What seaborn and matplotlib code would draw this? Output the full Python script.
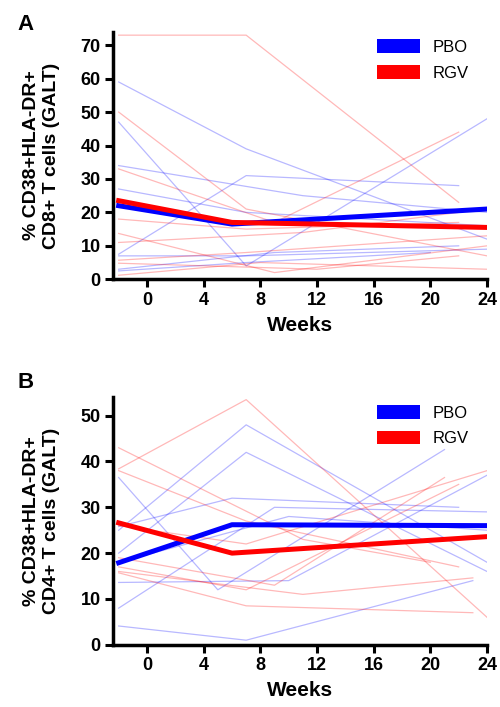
import seaborn as sns
import matplotlib.pyplot as plt
import pandas as pd
from matplotlib.patches import Patch

# Individual subjects, panel A (CD8+), each row: weeks / values
a_pbo_weeks = [[-2, 7, 24], [-2, 7, 24], [-2, 11, 24], [-2, 7, 22], [-2, 7, 24],
               [-2, 9, 22], [-2, 7, 24], [-2, 7, 20]]
a_pbo_vals = [[59, 39, 12], [47, 4, 48], [34, 25, 20], [7.5, 31, 28], [27, 20, 16],
              [3, 8, 10], [7, 7, 9], [2.5, 5, 8]]
a_rgv_weeks = [[-2, 7, 22], [-2, 7, 24], [-2, 9, 22], [-2, 7, 22], [-2, 9, 24],
               [-2, 11, 22], [-2, 7, 24], [-2, 12, 22], [-2, 8, 24]]
a_rgv_vals = [[73, 73, 23], [50, 21, 7], [33, 17, 44], [18, 15, 17], [13.7, 2, 10],
              [11, 14, 20], [5.7, 8, 13], [4.8, 3, 7], [1.2, 5, 3]]

# Individual subjects, panel B (CD4+)
b_pbo_weeks = [[-2, 7, 24], [-2, 7, 24], [-2, 5, 21], [-2, 6, 22], [-2, 10, 24],
               [-2, 9, 24], [-2, 7, 23], [-2, 10, 24]]
b_pbo_vals = [[25, 48, 18], [20, 42, 16], [36.5, 12, 42.6], [25.8, 32, 30], [13.6, 14, 37],
              [8, 30, 29], [4.1, 1, 14], [18, 28, 25]]
b_rgv_weeks = [[-2, 7, 24], [-2, 11, 20], [-2, 7, 22], [-2, 9, 21], [-2, 7, 22],
               [-2, 7, 23], [-2, 11, 23], [-2, 7, 24]]
b_rgv_vals = [[38.4, 53.5, 6], [43, 23, 18], [38, 27, 17], [19, 13, 36.5], [17, 12, 35],
              [15.7, 8.5, 7], [16, 11, 14.6], [26, 22, 38]]

# Group means
mean_weeks = [-2, 6, 24]
a_pbo_mean = [22, 16.5, 21]
a_rgv_mean = [23.5, 17, 15.5]
b_pbo_mean = [17.9, 26.2, 26]
b_rgv_mean = [26.6, 20, 23.6]


def to_long(weeks, vals, group):
    rows = []
    for i, (ws, vs) in enumerate(zip(weeks, vals)):
        for w, v in zip(ws, vs):
            rows.append({"subject": f"{group}{i}", "group": group, "week": w, "value": v})
    return rows


plt.rcParams['font.family'] = ['Liberation Sans', 'DejaVu Sans']
fig = plt.figure(figsize=(5, 7.07), dpi=100)

palette = {"PBO": "#0000ff", "RGV": "#ff0000"}

panels = [
    ("A", 0.957, [0.226, 0.605, 0.748, 0.350], a_pbo_weeks, a_pbo_vals, a_rgv_weeks, a_rgv_vals,
     a_pbo_mean, a_rgv_mean, "% CD38+HLA-DR+\nCD8+ T cells (GALT)", 74, range(0, 71, 10)),
    ("B", 0.451, [0.226, 0.088, 0.748, 0.350], b_pbo_weeks, b_pbo_vals, b_rgv_weeks, b_rgv_vals,
     b_pbo_mean, b_rgv_mean, "% CD38+HLA-DR+\nCD4+ T cells (GALT)", 54, range(0, 51, 10)),
]

for letter, ly, rect, pw, pv, rw, rv, pm, rm, ylabel, ytop, yticks in panels:
    ax = fig.add_axes(rect)
    df = pd.DataFrame(to_long(pw, pv, "PBO") + to_long(rw, rv, "RGV"))
    sns.lineplot(data=df, x="week", y="value", hue="group", units="subject",
                 estimator=None, palette=palette, lw=0.9, alpha=0.28, legend=False, ax=ax)
    means = pd.DataFrame({
        "week": mean_weeks * 2,
        "value": pm + rm,
        "group": ["PBO"] * 3 + ["RGV"] * 3,
    })
    sns.lineplot(data=means, x="week", y="value", hue="group", palette=palette,
                 lw=3.6, legend=False, ax=ax)

    ax.set_xlim(-2.4, 24)
    ax.set_ylim(0, ytop)
    ax.set_xticks(range(0, 25, 4))
    ax.set_yticks(list(yticks))
    for s in ["top", "right"]:
        ax.spines[s].set_visible(False)
    for s in ["left", "bottom"]:
        ax.spines[s].set_linewidth(2.5)
    ax.tick_params(width=2.2, length=6, labelsize=13, pad=3)
    for lab in ax.get_xticklabels() + ax.get_yticklabels():
        lab.set_fontweight("bold")
    ax.set_xlabel("Weeks", fontsize=15, fontweight="bold", labelpad=5)
    ax.set_ylabel(ylabel, fontsize=14, fontweight="bold", labelpad=15)

    handles = [Patch(facecolor="#0000ff", label="PBO"), Patch(facecolor="#ff0000", label="RGV")]
    ax.legend(handles=handles, loc="upper right", bbox_to_anchor=(0.99, 1.03), frameon=False,
              fontsize=12, handlelength=2.6, handleheight=0.9, labelspacing=0.6,
              handletextpad=0.7)

    fig.text(0.035, ly, letter, fontsize=16, fontweight="bold")

plt.savefig("out.png", dpi=100)
plt.close()
